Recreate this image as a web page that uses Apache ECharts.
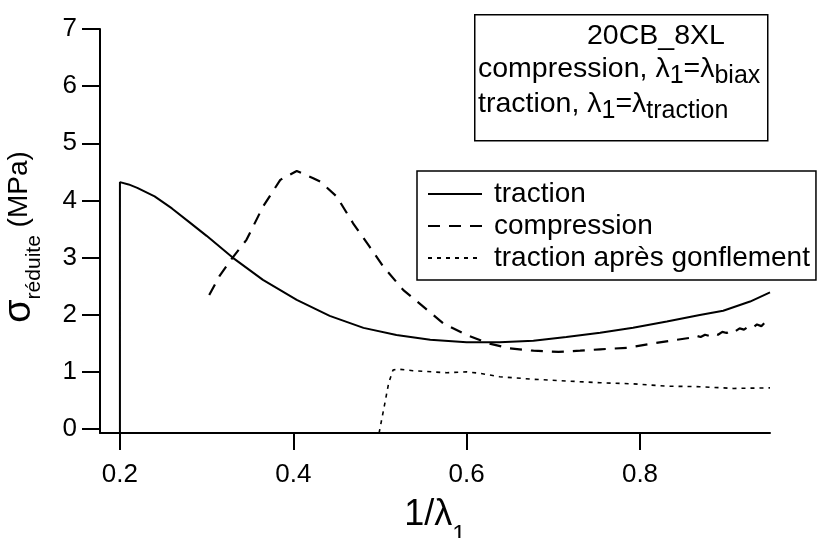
<!DOCTYPE html>
<html>
<head>
<meta charset="utf-8">
<script src="https://cdn.jsdelivr.net/npm/echarts@6/dist/echarts.min.js"></script>
<style>html,body{margin:0;padding:0;background:#fff;}#c{width:817px;height:538px;}</style>
</head>
<body>
<div id="c"></div>
<script>
const xTicks = [0.2, 0.4, 0.6, 0.8];
const yTicks = [0, 1, 2, 3, 4, 5, 6, 7];
const seriesNames = ['traction', 'compression', 'traction après gonflement'];

const tractionX = [0.2, 0.2, 0.21, 0.22, 0.24, 0.26, 0.28, 0.30, 0.33, 0.365, 0.404, 0.442, 0.481, 0.519, 0.558, 0.60, 0.638, 0.677, 0.715, 0.754, 0.792, 0.831, 0.869, 0.896, 0.927, 0.95];
const tractionY = [-0.07, 4.32, 4.28, 4.22, 4.07, 3.86, 3.62, 3.38, 3.00, 2.61, 2.26, 1.98, 1.77, 1.645, 1.56, 1.52, 1.52, 1.545, 1.61, 1.685, 1.77, 1.88, 1.995, 2.07, 2.23, 2.39];

const compX = [0.303, 0.315, 0.33, 0.346, 0.365, 0.385, 0.404, 0.423, 0.431, 0.45, 0.469, 0.488, 0.504, 0.527, 0.55, 0.573, 0.60, 0.625, 0.65, 0.677, 0.706, 0.731, 0.754, 0.785, 0.812, 0.842, 0.86, 0.865, 0.87, 0.875, 0.88, 0.885, 0.89, 0.895, 0.90, 0.905, 0.91, 0.915, 0.92, 0.925, 0.93, 0.935, 0.94, 0.945, 0.95];
const compY = [2.345, 2.68, 3.00, 3.31, 3.89, 4.36, 4.515, 4.39, 4.33, 4.07, 3.60, 3.19, 2.84, 2.43, 2.14, 1.85, 1.645, 1.50, 1.41, 1.37, 1.35, 1.37, 1.395, 1.42, 1.49, 1.56, 1.60, 1.63, 1.61, 1.65, 1.63, 1.67, 1.65, 1.70, 1.68, 1.73, 1.71, 1.76, 1.74, 1.79, 1.77, 1.83, 1.80, 1.88, 1.85];

const swellX = [0.499, 0.505, 0.51, 0.515, 0.52, 0.538, 0.56, 0.577, 0.60, 0.615, 0.638, 0.677, 0.715, 0.754, 0.792, 0.831, 0.869, 0.908, 0.95];
const swellY = [-0.07, 0.40, 0.80, 1.03, 1.05, 1.02, 1.00, 0.985, 1.00, 0.975, 0.915, 0.87, 0.84, 0.81, 0.79, 0.75, 0.74, 0.71, 0.72];

function pairs(xs, ys) { return xs.map((x, i) => [x, ys[i]]); }

const FONT = "'Liberation Sans', Arial, Helvetica, sans-serif";
const chart = echarts.init(document.getElementById('c'), null, {renderer: 'canvas'});

const subRich = {
  n: {fontSize: 28.5, fontFamily: FONT, color: '#000'},
  s: {fontSize: 25, fontFamily: FONT, color: '#000', padding: [14, 0, 0, 0]}
};

chart.setOption({
  animation: false,
  backgroundColor: '#fff',
  grid: {left: 100, right: 47, top: 29, bottom: 105, containLabel: false, outerBoundsMode: 'none'},
  xAxis: {
    type: 'value', min: 0.177, max: 0.95,
    axisLine: {show: true, onZero: false, lineStyle: {color: '#000', width: 2}},
    axisTick: {show: true, inside: false, length: 17, customValues: xTicks, lineStyle: {color: '#000', width: 2}},
    axisLabel: {customValues: xTicks, fontSize: 26, fontFamily: FONT, color: '#000', margin: 29, formatter: v => String(v)},
    splitLine: {show: false},
    name: '{a|1/λ}{b|1}',
    nameLocation: 'middle', nameGap: 50,
    nameTextStyle: {rich: {
      a: {fontSize: 36, fontFamily: FONT, color: '#000'},
      b: {fontSize: 24, fontFamily: FONT, color: '#000', padding: [40, 0, 0, 0]}
    }}
  },
  yAxis: {
    type: 'value', min: -0.07, max: 7,
    axisLine: {show: true, onZero: false, lineStyle: {color: '#000', width: 2}},
    axisTick: {show: true, inside: false, length: 18, customValues: yTicks, lineStyle: {color: '#000', width: 2}},
    axisLabel: {customValues: yTicks, fontSize: 26, fontFamily: FONT, color: '#000', margin: 23},
    splitLine: {show: false},
    name: '{a|σ}{b|réduite}{c| (MPa)}{d| }',
    nameLocation: 'middle', nameRotate: 90, nameGap: 55,
    nameTextStyle: {rich: {
      a: {fontSize: 38, fontFamily: FONT, color: '#000'},
      b: {fontSize: 21, fontFamily: FONT, color: '#000', padding: [30, 0, 0, 0]},
      c: {fontSize: 28, fontFamily: FONT, color: '#000'},
      d: {fontSize: 28, fontFamily: FONT, color: '#000', width: 12}
    }}
  },
  legend: {
    orient: 'vertical', left: 417, top: 171,
    itemWidth: 54, itemHeight: 20, itemGap: 4,
    borderColor: '#000', borderWidth: 1.5, padding: [9, 6, 8, 10],
    itemStyle: {color: 'rgba(0,0,0,0)', borderColor: 'rgba(0,0,0,0)', borderWidth: 0, opacity: 0},
    textStyle: {fontSize: 28, fontFamily: FONT, color: '#000', padding: [0, 0, 0, 7]},
    data: seriesNames
  },
  graphic: [
    {type: 'rect', left: 474, top: 14, shape: {width: 293, height: 126}, style: {fill: '#fff', stroke: '#000', lineWidth: 1.5}, z: 10},
    {type: 'text', left: 587, top: 22, z: 11, style: {text: '20CB_8XL', font: '28.5px ' + FONT, fill: '#000'}},
    {type: 'text', left: 478, top: 55, z: 11, style: {text: '{n|compression, λ}{s|1}{n|=λ}{s|biax}', rich: subRich}},
    {type: 'text', left: 478, top: 90, z: 11, style: {text: '{n|traction, λ}{s|1}{n|=λ}{s|traction}', rich: subRich}}
  ],
  series: [
    {name: seriesNames[0], type: 'line', data: pairs(tractionX, tractionY), showSymbol: false, symbol: 'none',
     lineStyle: {color: '#000', width: 2, type: 'solid'}, itemStyle: {color: '#000'}},
    {name: seriesNames[1], type: 'line', data: pairs(compX, compY), showSymbol: false, symbol: 'none',
     lineStyle: {color: '#000', width: 2.2, type: [12, 9]}, itemStyle: {color: '#000'}},
    {name: seriesNames[2], type: 'line', data: pairs(swellX, swellY), showSymbol: false, symbol: 'none',
     lineStyle: {color: '#000', width: 1.6, type: [4, 5]}, itemStyle: {color: '#000'}}
  ]
});
</script>
</body>
</html>
